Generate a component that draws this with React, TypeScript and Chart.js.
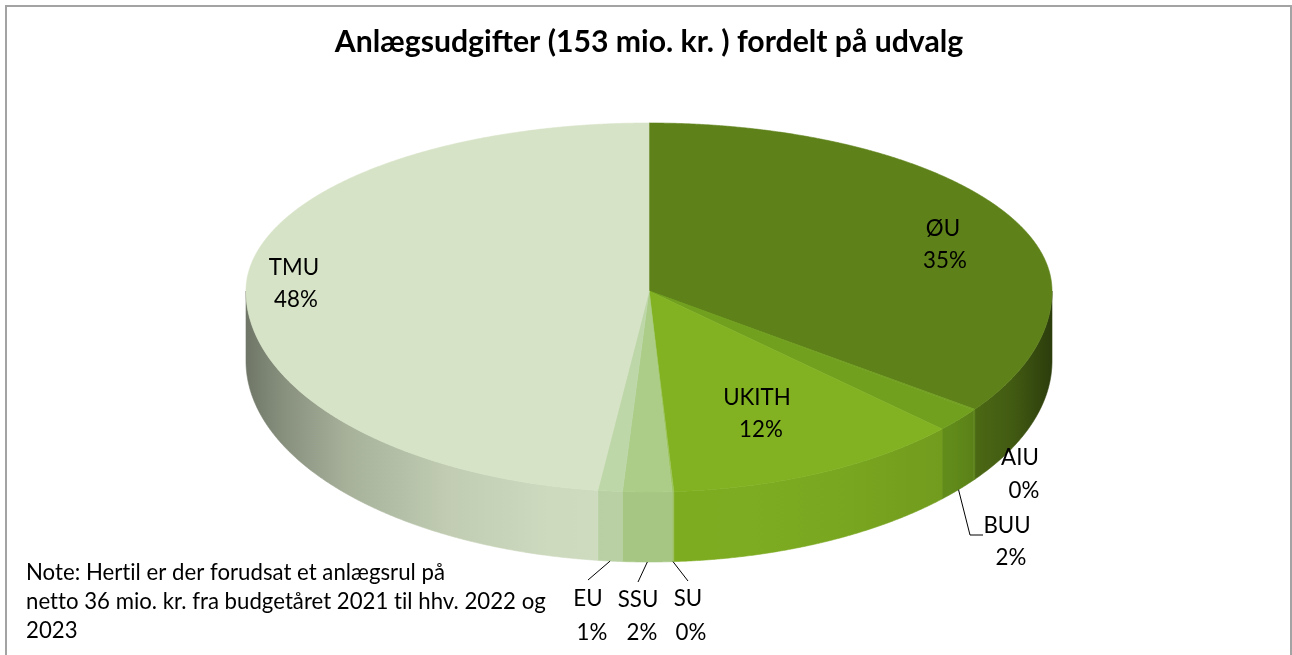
import React, { useEffect, useRef } from "react";
import { Chart, PieController, ArcElement, Title } from "chart.js";

const categories = ["ØU", "AIU", "BUU", "UKITH", "SU", "SSU", "EU", "TMU"];
const values = [53.5, 0.1, 3.0, 18.3, 0.1, 3.0, 1.5, 73.3];
const sliceColors = ["#5e8219", "#70a01e", "#70a01e", "#82b222", "#9cc45e", "#abcd87", "#bed7a9", "#d6e3c6"];
const titleText = "Anlægsudgifter (153 mio. kr. ) fordelt på udvalg";
const noteLines = [
  "Note: Hertil er der forudsat et anlægsrul på",
  "netto 36 mio. kr. fra budgetåret 2021 til hhv. 2022 og",
  "2023",
];
// label centres for name and percentage, per category
const labelNameX = [943, 1020, 1007, 757, 688, 638, 588, 294];
const labelNameY = [229, 458, 526, 398, 599, 600, 599, 268];
const labelPctX = [945, 1024, 1011, 761, 691, 642, 592, 296];
const labelPctY = [261, 491, 558, 430, 633, 633, 633, 300];
// leader lines: category name -> path from slice foot to label
const leaders: Record<string, number[][]> = {
  BUU: [[970, 535], [983, 535]],
  EU: [[588, 580]],
  SSU: [[638, 582]],
  SU: [[688, 581]],
};

const FONT = "Lato, Carlito, 'Open Sans', sans-serif";
const X_STRETCH = 403 / 168;
const Y_FRONT = 201 / 168;
const DEPTH = 70;

function hexRgb(h: string) {
  return [1, 3, 5].map((i) => parseInt(h.slice(i, i + 2), 16));
}
function shade(h: string, f: number) {
  const [r, g, b] = hexRgb(h);
  return `rgb(${Math.round(r * f)},${Math.round(g * f)},${Math.round(b * f)})`;
}
const shadePos = [0, 0.25, 0.5, 0.75, 0.9, 1];
const shadeLeft = [0.97, 0.96, 0.9, 0.78, 0.64, 0.52];
const shadeRight = [0.97, 0.96, 0.93, 0.87, 0.7, 0.47];
function shadeAt(u: number, vals: number[]) {
  for (let i = 1; i < shadePos.length; i++) {
    if (u <= shadePos[i]) {
      const t = (u - shadePos[i - 1]) / (shadePos[i] - shadePos[i - 1]);
      return vals[i - 1] + t * (vals[i] - vals[i - 1]);
    }
  }
  return vals[vals.length - 1];
}

function project(cx: number, cy: number, r: number, a: number) {
  const s = Math.sin(a);
  return [cx + r * X_STRETCH * Math.cos(a), cy + r * s * (s > 0 ? Y_FRONT : 1)];
}

class Arc3D extends ArcElement {
  static id = "arc3d";
  draw(ctx: CanvasRenderingContext2D) {
    const { x, y, startAngle, endAngle, outerRadius } = (this as any).getProps([
      "x", "y", "startAngle", "endAngle", "outerRadius",
    ]);
    const color = (this as any).options.backgroundColor as string;
    const step = Math.PI / 720;
    const edge = (a0: number, a1: number) => {
      const pts: number[][] = [];
      const n = Math.max(1, Math.ceil((a1 - a0) / step));
      for (let i = 0; i <= n; i++) pts.push(project(x, y, outerRadius, a0 + ((a1 - a0) * i) / n));
      return pts;
    };
    // side wall, only for the part of the slice on the front half
    const w0 = Math.max(startAngle, 0);
    const w1 = Math.min(endAngle, Math.PI);
    ctx.save();
    ctx.lineWidth = 0.6;
    ctx.lineJoin = "round";
    if (w1 > w0) {
      const pts = edge(w0, w1);
      const rx = outerRadius * X_STRETCH;
      const g = ctx.createLinearGradient(x - rx, 0, x + rx, 0);
      for (let i = 0; i <= 40; i++) {
        const p = i / 40;
        const u = p * 2 - 1;
        g.addColorStop(p, shade(color, shadeAt(Math.abs(u), u < 0 ? shadeLeft : shadeRight)));
      }
      ctx.beginPath();
      pts.forEach((p, i) => (i ? ctx.lineTo(p[0], p[1]) : ctx.moveTo(p[0], p[1])));
      for (let i = pts.length - 1; i >= 0; i--) ctx.lineTo(pts[i][0], pts[i][1] + DEPTH);
      ctx.closePath();
      ctx.fillStyle = g;
      ctx.strokeStyle = g;
      ctx.fill();
      ctx.stroke();
    }
    // top face
    const pts = edge(startAngle, endAngle);
    ctx.beginPath();
    ctx.moveTo(x, y);
    pts.forEach((p) => ctx.lineTo(p[0], p[1]));
    ctx.closePath();
    ctx.fillStyle = color;
    ctx.strokeStyle = color;
    ctx.fill();
    ctx.stroke();
    ctx.restore();
  }
}

class Pie3DController extends PieController {
  static id = "pie3d";
  static defaults = { dataElementType: "arc3d" };
}

Chart.register(PieController, ArcElement, Title, Arc3D as any, Pie3DController as any);

const decor = {
  id: "decor",
  beforeDraw(chart: any) {
    const c = chart.ctx;
    c.save();
    c.fillStyle = "#ffffff";
    c.fillRect(0, 0, chart.width, chart.height);
    c.fillStyle = "#a3a3a3";
    c.fillRect(5, 5, 1286, 2);
    c.fillRect(5, 5, 2, chart.height - 5);
    c.fillRect(1290, 5, 2, chart.height - 5);
    c.restore();
  },
  afterDatasetsDraw(chart: any) {
    const c = chart.ctx;
    const arcs = chart.getDatasetMeta(0).data;
    const total = values.reduce((a, b) => a + b, 0);
    c.save();
    // leader lines
    c.strokeStyle = "#000000";
    c.lineWidth = 1;
    categories.forEach((name, i) => {
      const path = leaders[name];
      if (!path) return;
      const a = arcs[i];
      const p = project(a.x, a.y, a.outerRadius, (a.startAngle + a.endAngle) / 2);
      c.beginPath();
      c.moveTo(p[0], p[1] + DEPTH);
      path.forEach((q) => c.lineTo(q[0], q[1]));
      c.stroke();
    });
    // data labels
    c.fillStyle = "#000000";
    c.textAlign = "center";
    c.textBaseline = "middle";
    c.letterSpacing = "0.01px";
    c.font = `22.3px ${FONT}`;
    categories.forEach((name, i) => {
      c.fillText(name, labelNameX[i], labelNameY[i]);
      c.fillText(`${Math.round((values[i] / total) * 100)}%`, labelPctX[i], labelPctY[i]);
    });
    // note
    c.textAlign = "left";
    c.font = `22.2px ${FONT}`;
    noteLines.forEach((t, i) => c.fillText(t, 26, 573 + i * 29));
    c.restore();
  },
};

export default function App() {
  const ref = useRef<HTMLCanvasElement>(null);
  useEffect(() => {
    const chart = new Chart(ref.current!, {
      type: "pie3d" as any,
      data: {
        labels: categories,
        datasets: [{ data: values, backgroundColor: sliceColors, borderWidth: 0 }],
      },
      options: {
        responsive: false,
        animation: false,
        layout: { padding: { left: 246, right: 240, top: 0, bottom: 196 } },
        plugins: {
          title: {
            display: true,
            text: titleText,
            color: "#000000",
            font: { family: FONT, size: 30.2, weight: "bold", lineHeight: 1.2 },
            padding: { top: 24, bottom: 62.76 },
          },
          legend: { display: false },
          tooltip: { enabled: false },
        },
      } as any,
      plugins: [decor],
    });
    return () => chart.destroy();
  }, []);
  return (
    <div style={{ position: "absolute", left: 0, top: 0, width: 1292, height: 655 }}>
      <canvas ref={ref} width={1292} height={655} style={{ display: "block" }} />
    </div>
  );
}
